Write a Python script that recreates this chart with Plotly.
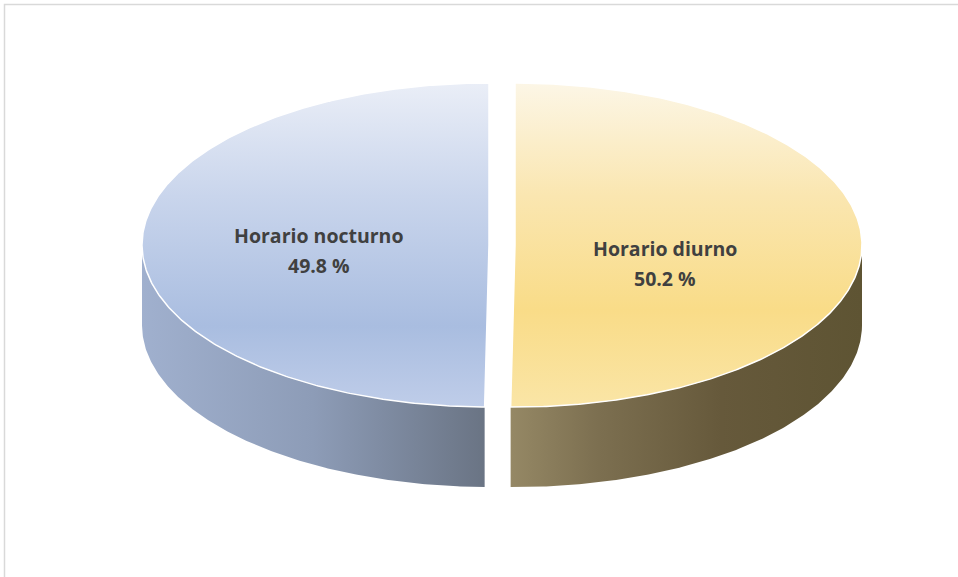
import numpy as np
import plotly.graph_objects as go

# data (Excel order: first slice starts at 12 o'clock, clockwise)
categories = ["Horario diurno", "Horario nocturno"]
values = [50.2, 49.8]

# look of the 3D pie
top_colors = [
    [[0.0, "#FCF6E6"], [0.35, "#FAE6B0"], [0.7, "#F9DC88"], [1.0, "#FAE5A6"]],
    [[0.0, "#EAEEF7"], [0.35, "#C9D5EC"], [0.75, "#A9BDE0"], [1.0, "#BFCDE9"]],
]
side_colors = [
    [[0.0, "#958865"], [0.25, "#7C6F50"], [0.6, "#66593B"], [1.0, "#5E5433"]],
    [[0.0, "#A0B0CE"], [0.5, "#8D9CB7"], [1.0, "#6A7484"]],
]

W, H = 958, 577
cx, cy = 502, 245     # pie centre
a, b = 347, 162       # ellipse semi axes
depth = 80
explode = 13
label_font = dict(family="Open Sans", size=19.5, color="#404040")


def ellipse_pts(theta, ox, oy, dy=0):
    x = ox + a * np.cos(theta)
    y = oy - b * np.sin(theta) + dy
    return x, y


def build_pie(fig):
    total = sum(values)
    start = 90.0
    tops = []
    for i, v in enumerate(values):
        sweep = v / total * 360
        t0, t1 = start, start - sweep
        start = t1
        mid = np.radians((t0 + t1) / 2)
        ox = cx + explode * np.cos(mid)
        oy = cy - explode * np.sin(mid) * b / a
        theta = np.radians(np.linspace(t0, t1, 400))

        # front wall
        front = np.sin(theta) <= 0
        th = theta[front]
        if len(th):
            xt, yt = ellipse_pts(th, ox, oy)
            xb, yb = ellipse_pts(th[::-1], ox, oy, depth)
            xs = np.concatenate([xt, xb, xt[:1]])
            ys = np.concatenate([yt, yb, yt[:1]])
            fig.add_trace(go.Scatter(
                x=xs, y=ys, mode="lines", fill="toself",
                line=dict(width=0, color="rgba(0,0,0,0)"),
                fillgradient=dict(type="horizontal", colorscale=side_colors[i],
                                  start=xs.min(), stop=xs.max()),
                hoverinfo="skip", showlegend=False,
            ))

        xt, yt = ellipse_pts(theta, ox, oy)
        tops.append((i, v, ox, oy, mid, xt, yt))

    for i, v, ox, oy, mid, xt, yt in tops:
        xs = np.concatenate([[ox], xt, [ox]])
        ys = np.concatenate([[oy], yt, [oy]])
        fig.add_trace(go.Scatter(
            x=xs, y=ys, mode="lines", fill="toself",
            line=dict(width=1.5, color="white"),
            fillgradient=dict(type="vertical", colorscale=top_colors[i],
                              start=cy - b, stop=cy + b),
            name=categories[i], hoverinfo="skip", showlegend=False,
        ))
        # label, Excel puts it a bit left / lower in the 3D view
        lx = ox + 0.46 * a * np.cos(mid) - 10
        ly = oy + 12 + 6 * np.cos(mid)
        fig.add_annotation(x=lx, y=ly - 15, text="<b>%s</b>" % categories[i],
                           showarrow=False, font=label_font)
        fig.add_annotation(x=lx, y=ly + 15, text="<b>%.1f %%</b>" % v,
                           showarrow=False, font=label_font)


fig = go.Figure()
build_pie(fig)

# chart frame (runs past the right / bottom edge of the window)
fig.add_shape(type="rect", x0=4.5, y0=4.5, x1=W + 40, y1=H + 40,
              line=dict(color="#D9D9D9", width=1.5), layer="below")

fig.update_layout(
    width=W,
    height=H,
    margin=dict(l=0, r=0, t=0, b=0),
    paper_bgcolor="white",
    plot_bgcolor="white",
    xaxis=dict(range=[0, W], visible=False, fixedrange=True),
    yaxis=dict(range=[H, 0], visible=False, fixedrange=True),
)

fig.write_html("out.html", config={"displayModeBar": False},
               post_script="document.body.style.margin='0';")
